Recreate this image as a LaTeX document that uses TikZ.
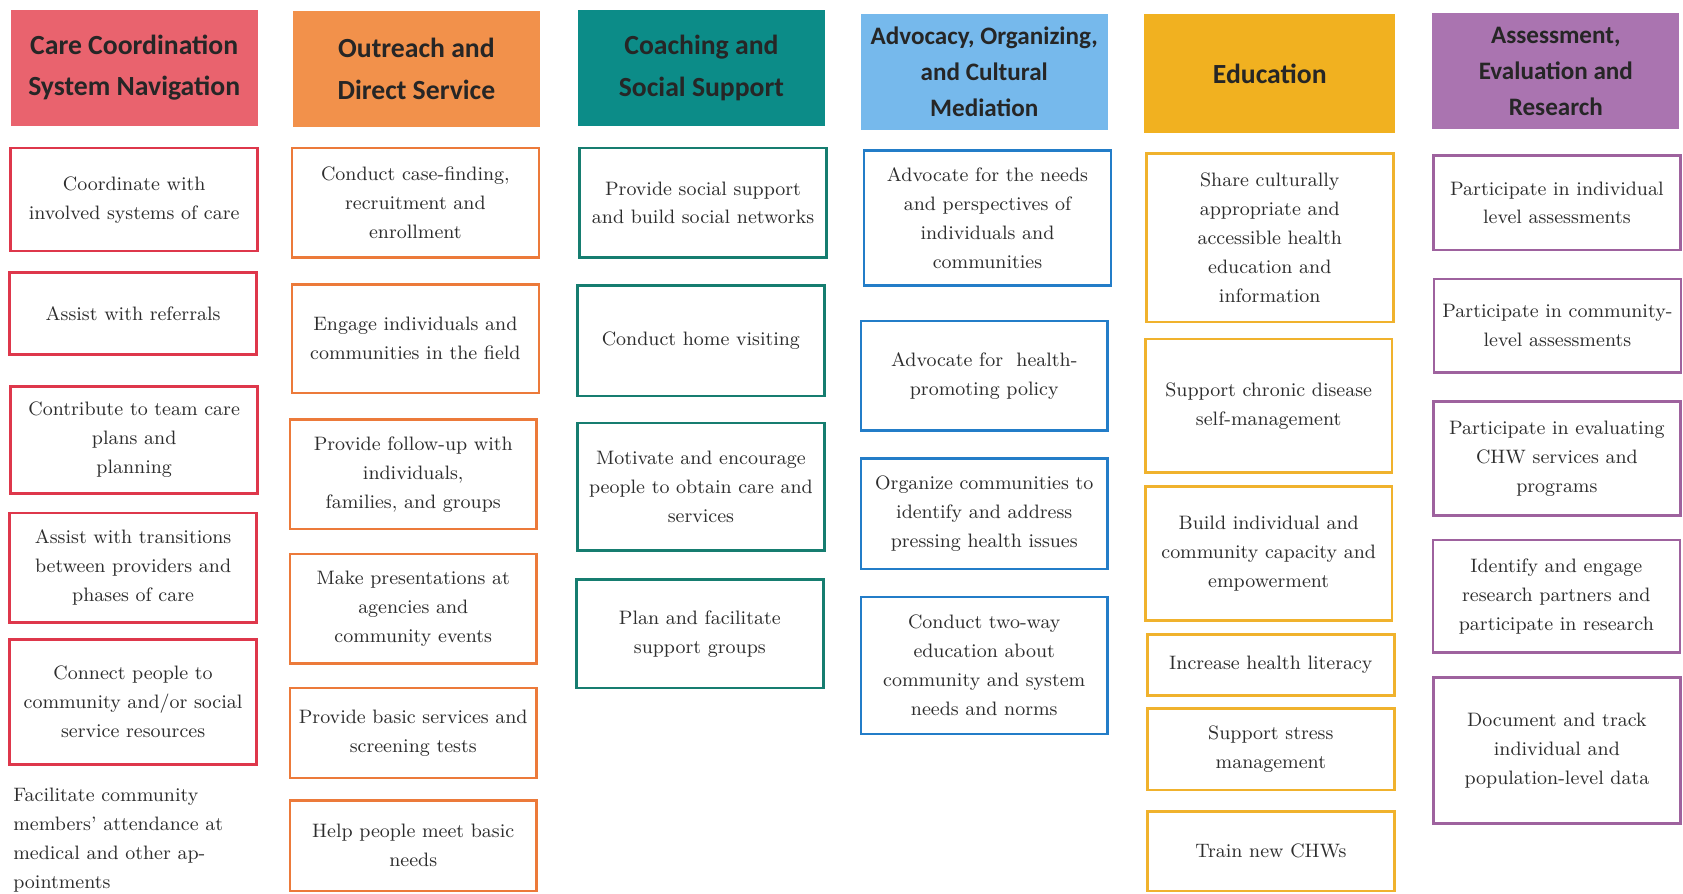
\documentclass[tikz,border=0pt]{standalone}
\usepackage{fontspec}
\newfontfamily\headfont{Carlito}
\definecolor{redfill}{RGB}{233,99,110}
\definecolor{redline}{RGB}{222,55,75}
\definecolor{orangefill}{RGB}{242,145,75}
\definecolor{orangeline}{RGB}{236,122,58}
\definecolor{tealfill}{RGB}{12,140,136}
\definecolor{tealline}{RGB}{22,125,112}
\definecolor{bluefill}{RGB}{118,185,236}
\definecolor{blueline}{RGB}{35,125,200}
\definecolor{yellowfill}{RGB}{241,177,32}
\definecolor{yellowline}{RGB}{240,178,45}
\definecolor{purplefill}{RGB}{170,116,176}
\definecolor{purpleline}{RGB}{158,98,158}
\definecolor{txtgray}{RGB}{45,45,45}
\begin{document}
\begin{tikzpicture}[x=0.5pt,y=-0.5pt,
    every node/.style={text=txtgray,font=\fontsize{9.05}{13.5}\selectfont},
    head/.style={fill=#1,minimum width=115pt,minimum height=54pt,align=center,inner sep=0pt,
        text=black!85,font=\headfont\bfseries\fontsize{12.9}{19.5}\selectfont},
    headsmall/.style={head=#1,font=\headfont\bfseries\fontsize{11.7}{16.8}\selectfont},
    task/.style={draw=#1,line width=1.2pt,fill=white,minimum width=115pt,align=center,inner sep=0pt}]
    \useasboundingbox (0,0) rectangle (1568,832);
    % care coordination
    \node[head=redfill] (careH) at (125,63) {Care Coordination\\System Navigation};
    \node[task=redline,minimum height=48pt] (care1) at (125,186) {Coordinate with\\involved systems of care};
    \node[task=redline,minimum height=38pt] (care2) at (124,292) {Assist with referrals};
    \node[task=redline,minimum height=50pt] (care3) at (125,410) {Contribute to team care\\plans and\\planning};
    \node[task=redline,minimum height=51pt] (care4) at (124,529) {Assist with transitions\\between providers and\\phases of care};
    \node[task=redline,minimum height=58pt] (care5) at (124,654) {Connect people to\\community and/or social\\service resources};
    \node[anchor=west,align=left,inner sep=0pt] (care6) at (12,783)
        {Facilitate community\\members' attendance at\\medical and other ap-\\pointments};
    % outreach
    \node[head=orangefill] (outH) at (388,64) {Outreach and\\Direct Service};
    \node[task=orangeline,minimum height=51pt] (out1) at (387,189) {Conduct case-finding,\\recruitment and\\enrollment};
    \node[task=orangeline,minimum height=50.5pt] (out2) at (387,315.5) {Engage individuals and\\communities in the field};
    \node[task=orangeline,minimum height=51pt] (out3) at (385,442) {Provide follow-up with\\individuals,\\families, and groups};
    \node[task=orangeline,minimum height=51pt] (out4) at (385,567) {Make presentations at\\agencies and\\community events};
    \node[task=orangeline,minimum height=42pt] (out5) at (385,683) {Provide basic services and\\screening tests};
    \node[task=orangeline,minimum height=42pt] (out6) at (385,788) {Help people meet basic\\needs};
    % coaching
    \node[head=tealfill] (coachH) at (653.5,63) {Coaching and\\Social Support};
    \node[task=tealline,minimum height=51pt] (coach1) at (655,189) {Provide social support\\and build social networks};
    \node[task=tealline,minimum height=51.5pt] (coach2) at (653,317.5) {Conduct home visiting};
    \node[task=tealline,minimum height=59.5pt] (coach3) at (653,453.5) {Motivate and encourage\\people to obtain care and\\services};
    \node[task=tealline,minimum height=50.5pt] (coach4) at (652,590.5) {Plan and facilitate\\support groups};
    % advocacy
    \node[headsmall=bluefill] (advH) at (917,67) {Advocacy, Organizing,\\and Cultural\\Mediation};
    \node[task=blueline,minimum height=63pt] (adv1) at (920,203) {Advocate for the needs\\and perspectives of\\individuals and\\communities};
    \node[task=blueline,minimum height=51pt] (adv2) at (917,350) {Advocate for\ \ health-\\promoting policy};
    \node[task=blueline,minimum height=51.5pt] (adv3) at (917,478.5) {Organize communities to\\identify and address\\pressing health issues};
    \node[task=blueline,minimum height=64pt] (adv4) at (917,620) {Conduct two-way\\education about\\community and system\\needs and norms};
    % education
    \node[head=yellowfill,minimum width=117pt,minimum height=55.5pt] (eduH) at (1183,68.5) {Education};
    \node[task=yellowline,minimum height=78.5pt] (edu1) at (1183,221.5) {Share culturally\\appropriate and\\accessible health\\education and\\information};
    \node[task=yellowline,minimum height=62pt] (edu2) at (1182,378) {Support chronic disease\\self-management};
    \node[task=yellowline,minimum height=62.5pt] (edu3) at (1182,515.5) {Build individual and\\community capacity and\\empowerment};
    \node[task=yellowline,minimum height=28.5pt] (edu4) at (1184,619.5) {Increase health literacy};
    \node[task=yellowline,minimum height=38pt] (edu5) at (1184,698) {Support stress\\management};
    \node[task=yellowline,minimum height=37pt] (edu6) at (1184,793) {Train new CHWs};
    % assessment
    \node[headsmall=purplefill] (evalH) at (1449.5,66.5) {Assessment,\\Evaluation and\\Research};
    \node[task=purpleline,minimum height=44pt] (eval1) at (1450.5,189) {Participate in individual\\level assessments};
    \node[task=purpleline,minimum height=43.5pt] (eval2) at (1451,303.5) {Participate in community-\\level assessments};
    \node[task=purpleline,minimum height=53pt] (eval3) at (1450.5,427) {Participate in evaluating\\CHW services and\\programs};
    \node[task=purpleline,minimum height=52.5pt] (eval4) at (1450,555.5) {Identify and engage\\research partners and\\participate in research};
    \node[task=purpleline,minimum height=68pt] (eval5) at (1450.5,699) {Document and track\\individual and\\population-level data};
\end{tikzpicture}
\end{document}
